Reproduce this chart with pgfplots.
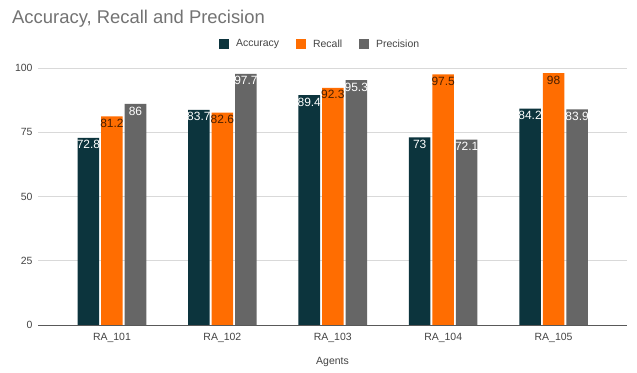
\documentclass[border=0pt]{standalone}
\usepackage{fontspec}
\setmainfont{Liberation Sans}
\usepackage{pgfplots}
\pgfplotsset{compat=1.18}
\definecolor{accC}{HTML}{0C343D}
\definecolor{recC}{HTML}{FF6D01}
\definecolor{preC}{HTML}{666666}
\definecolor{recLab}{HTML}{4A1F00}
\definecolor{txtC}{HTML}{444444}
\begin{document}
\begin{tikzpicture}
\fill[white] (0bp,0bp) rectangle (637bp,373bp);
\useasboundingbox (0bp,0bp) rectangle (637bp,373bp);
\node[anchor=base west, inner sep=0pt, text=black!55, font=\fontsize{18.5}{21}\selectfont] at (12bp,349bp) {Accuracy, Recall and Precision};
\begin{axis}[
  ybar,
  at={(38bp,48bp)}, anchor=south west,
  scale only axis, width=589bp, height=257bp,
  xmin=-0.67, xmax=4.665, ymin=0, ymax=100,
  ytick={0,25,50,75,100},
  xtick={0,1,2,3,4},
  xticklabels={RA\_101,RA\_102,RA\_103,RA\_104,RA\_105},
  ymajorgrids, grid style={draw=black!15, line width=0.8bp},
  axis x line*=bottom, axis y line*=left,
  y axis line style={draw=none},
  x axis line style={draw=black!65, line width=1bp},
  major tick length=0pt,
  /pgf/number format/assume math mode=true,
  tick label style={font=\fontsize{10.5}{12}\selectfont, text=txtC},
  yticklabel style={xshift=-2bp},
  xticklabel style={yshift=-5bp},
  xlabel={Agents},
  xlabel style={font=\fontsize{10.5}{12}\selectfont, text=txtC, yshift=-8bp},
  bar width=0.195,
  legend style={at={(0.479,1.093)}, anchor=center, draw=none, fill=none,
    font=\fontsize{10.5}{12}\selectfont, text=txtC,
    /tikz/every odd column/.append style={column sep=5bp},
    /tikz/every even column/.append style={column sep=15bp}},
  legend columns=3,
  legend image code/.code={\fill[#1] (0bp,-5bp) rectangle (10bp,5bp);},
  nodes near coords,
  nodes near coords style={anchor=north, inner sep=1.5bp, yshift=-1bp,
    font=\fontsize{12}{13}\selectfont},
]
\addplot[fill=accC, draw=none, bar shift=-0.213,
  nodes near coords style={text=white}]
  coordinates {(0,72.8) (1,83.7) (2,89.4) (3,73) (4,84.2)};
\addlegendentry{Accuracy}
\addplot[fill=recC, draw=none, bar shift=0,
  nodes near coords style={text=recLab}]
  coordinates {(0,81.2) (1,82.6) (2,92.3) (3,97.5) (4,98)};
\addlegendentry{Recall}
\addplot[fill=preC, draw=none, bar shift=0.213,
  nodes near coords style={text=white}]
  coordinates {(0,86) (1,97.7) (2,95.3) (3,72.1) (4,83.9)};
\addlegendentry{Precision}
\end{axis}
\end{tikzpicture}
\end{document}
